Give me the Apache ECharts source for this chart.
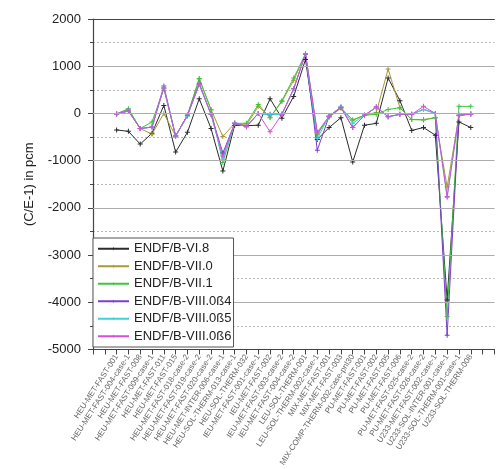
<!DOCTYPE html>
<html>
<head>
<meta charset="utf-8">
<script src="https://cdn.jsdelivr.net/npm/echarts@6/dist/echarts.min.js"></script>
<style>
  html, body { margin: 0; padding: 0; background: #fff; }
  #chart { width: 496px; height: 469px; }
</style>
</head>
<body>
<div id="chart"></div>
<script>
// Benchmark cases on the horizontal axis
const categories = [
  'HEU-MET-FAST-001', 'HEU-MET-FAST-004-case-1', 'HEU-MET-FAST-008', 'HEU-MET-FAST-009-case-1',
  'HEU-MET-FAST-011', 'HEU-MET-FAST-015', 'HEU-MET-FAST-018-case-2', 'HEU-MET-FAST-019-case-2',
  'HEU-MET-FAST-020-case-2', 'HEU-MET-INTER-006-case-1', 'HEU-SOL-THERM-013-case-1', 'HEU-SOL-THERM-032',
  'IEU-MET-FAST-001-case-1', 'IEU-MET-FAST-002', 'IEU-MET-FAST-003-case-2', 'IEU-MET-FAST-004-case-2',
  'LEU-SOL-THERM-001', 'LEU-SOL-THERM-002-case-1', 'MIX-MET-FAST-001', 'MIX-MET-FAST-003',
  'MIX-COMP-THERM-002-case-pnl30', 'PU-MET-FAST-001', 'PU-MET-FAST-002', 'PU-MET-FAST-005',
  'PU-MET-FAST-006', 'PU-MET-FAST-025-case-2', 'PU-MET-FAST-026-case-2', 'U233-MET-FAST-002-case-1',
  'U233-SOL-INTER-001-case-1', 'U233-SOL-THERM-001-case-1', 'U233-SOL-THERM-008'
];

// (C/E-1) in pcm for each library
const vi8 = [-350, -380, -650, -420, 170, -820, -400, 310, -320, -1220, -250, -260, -250, 310, -100, 360,
  1140, -550, -300, -90, -1030, -250, -210, 750, 270, -360, -300, -460, -3950, -180, -300];
const vii0 = [-10, 90, -320, -440, 0, -480, -40, 730, 80, -490, -210, -250, 150, -80, 250, 700,
  1260, -420, -80, 110, -140, -40, 20, 940, 120, -130, -130, -90, -1560, -50, -10];
const vii1 = [-10, 100, -320, -180, 520, -480, -40, 740, 80, -1040, -210, -210, 190, -90, 270, 750,
  1260, -450, -60, 120, -140, -40, -20, 85, 120, -130, -140, -90, -4300, 150, 150];
const viii0b4 = [-10, 50, -320, -290, 580, -480, -40, 640, -20, -840, -210, -280, 0, -20, -20, 520,
  1260, -780, -60, 130, -300, -40, 130, -70, -20, -20, 85, 0, -4700, -40, -10];
const viii0b5 = [-10, 50, -320, -290, 550, -480, -60, 620, -20, -970, -210, -280, 0, -30, -20, 520,
  1260, -530, -60, 140, -210, -40, 130, -70, -20, -20, 85, 0, -1780, -40, -10];
const viii0b6 = [-10, 50, -320, -290, 540, -480, -40, 610, -20, -900, -210, -280, 0, -390, -20, 520,
  1260, -400, -60, 130, -300, -40, 140, -70, -20, -20, 150, 0, -1760, -40, -10];

// Y tick values
const yTicks = [-5000, -4000, -3000, -2000, -1000, 0, 1000, 2000];

const seriesDefs = [
  { name: 'ENDF/B-VI.8', data: vi8, color: '#2b2b2b' },
  { name: 'ENDF/B-VII.0', data: vii0, color: '#a69a36' },
  { name: 'ENDF/B-VII.1', data: vii1, color: '#3fc43f' },
  { name: 'ENDF/B-VIII.0ß4', data: viii0b4, color: '#7b3fcc' },
  { name: 'ENDF/B-VIII.0ß5', data: viii0b5, color: '#40d0d8' },
  { name: 'ENDF/B-VIII.0ß6', data: viii0b6, color: '#d64fd6' }
];

const plus = 'path://M2,0H3V2H5V3H3V5H2V3H0V2H2Z';
const font = 'Liberation Sans, Arial, sans-serif';

// Solid horizontal grid at the major ticks (inner ones; the frame covers the ends)
const gridSeries = {
  type: 'line',
  data: [],
  silent: true,
  z: 1,
  markLine: {
    silent: true,
    symbol: ['none', 'none'],
    label: { show: false },
    animation: false,
    lineStyle: { color: '#acacac', width: 1, type: 'solid' },
    data: yTicks.slice(1, -1).map(v => ({ yAxis: v }))
  }
};

const chart = echarts.init(document.getElementById('chart'), null, { renderer: 'canvas' });

chart.setOption({
  animation: false,
  backgroundColor: '#fff',
  grid: { left: 93, right: 1, top: 19, bottom: 117 },
  legend: {
    orient: 'vertical',
    left: 93,
    top: 238,
    z: 10,
    padding: [4, 2, 4, 4],
    itemGap: 4,
    itemWidth: 31,
    itemHeight: 4,
    backgroundColor: '#fff',
    borderColor: '#555',
    borderWidth: 1,
    borderRadius: 0,
    textStyle: { fontFamily: font, fontSize: 13, lineHeight: 13.5, color: '#222' },
    data: seriesDefs.map(s => s.name)
  },
  xAxis: [{
    type: 'value',
    min: -1,
    max: 33,
    interval: 1,
    axisLine: { onZero: false, lineStyle: { color: '#444', width: 1.2 } },
    axisTick: { show: true, inside: false, length: 5, lineStyle: { color: '#444' } },
    splitLine: { show: false },
    axisLabel: {
      rotate: 57,
      margin: 6,
      fontSize: 8,
      color: '#666',
      fontFamily: font,
      formatter: v => categories[v - 1] || ''
    }
  }, {
    type: 'value',
    position: 'top',
    min: -1,
    max: 33,
    axisLine: { show: true, onZero: false, lineStyle: { color: '#444', width: 1.2 } },
    axisTick: { show: false },
    axisLabel: { show: false },
    splitLine: { show: false }
  }],
  yAxis: {
    type: 'value',
    min: yTicks[0],
    max: yTicks[yTicks.length - 1],
    interval: 1000,
    name: '(C/E-1) in pcm',
    nameLocation: 'middle',
    nameGap: 57,
    nameTextStyle: { fontFamily: font, fontSize: 13, color: '#222' },
    axisLine: { show: true, onZero: false, lineStyle: { color: '#444', width: 1.2 } },
    axisTick: { show: true, length: 5, lineStyle: { color: '#444' } },
    minorTick: { show: true, splitNumber: 2, length: 3, lineStyle: { color: '#444' } },
    splitLine: { show: true, lineStyle: { color: '#acacac', width: 1, type: 'solid' } },
    minorSplitLine: { show: true, lineStyle: { color: '#b8b8b8', type: [2, 2], width: 1 } },
    axisLabel: {
      margin: 12,
      fontSize: 13,
      color: '#222',
      fontFamily: font,
      formatter: v => String(v)
    }
  },
  series: [gridSeries].concat(seriesDefs.map(s => ({
    name: s.name,
    type: 'line',
    xAxisIndex: 0,
    z: 3,
    data: s.data.map((v, i) => [i + 1, v]),
    symbol: plus,
    symbolSize: 5,
    showSymbol: true,
    color: s.color,
    lineStyle: { width: 1, color: s.color },
    itemStyle: { color: s.color }
  })))
});
</script>
</body>
</html>
